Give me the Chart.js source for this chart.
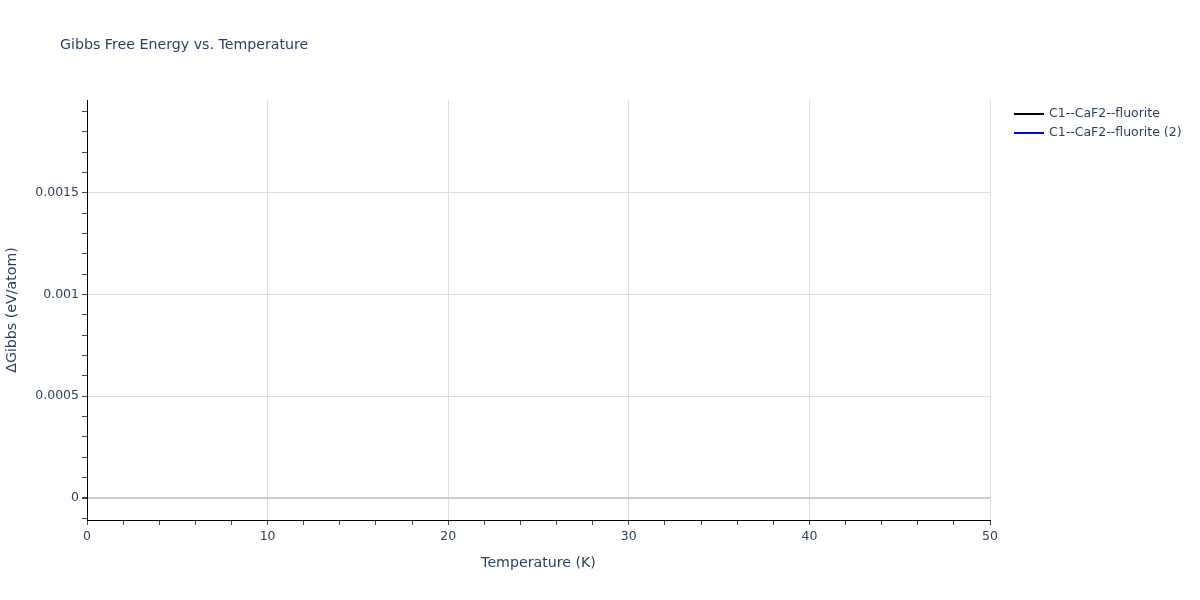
<!DOCTYPE html>
<html>
<head>
<meta charset="utf-8">
<script src="https://cdn.jsdelivr.net/npm/chart.js@4"></script>
<style>
  html, body { margin: 0; padding: 0; background: #fff; }
  #wrap { width: 1200px; height: 600px; }
</style>
</head>
<body>
<div id="wrap"><canvas id="gibbs"></canvas></div>
<script>
// data: no visible trace points in the plotted range
var seriesNames = ['C1--CaF2--fluorite', 'C1--CaF2--fluorite (2)'];
var seriesColors = ['#000000', '#0000ff'];
var temperature1 = [];
var gibbs1 = [];
var temperature2 = [];
var gibbs2 = [];
var xRange = [0, 50];
var yRange = [-0.000109, 0.001957];

var textColor = '#2a3f5f';
var fontFamily = '"DejaVu Sans", Verdana, sans-serif';

function toPoints(xs, ys) {
    return xs.map(function (x, i) { return { x: x, y: ys[i] }; });
}

// title + legend drawn on the canvas
var decorations = {
    id: 'decorations',
    afterDraw: function (chart) {
        var c = chart.ctx;
        c.save();
        c.fillStyle = textColor;
        c.font = '14.2px ' + fontFamily;
        c.textBaseline = 'middle';
        c.textAlign = 'left';
        c.fillText('Gibbs Free Energy vs. Temperature', 60, 45);

        c.font = '12.5px ' + fontFamily;
        chart.data.datasets.forEach(function (ds, i) {
            var y = 114 + i * 19;
            c.strokeStyle = ds.borderColor;
            c.lineWidth = 2;
            c.beginPath();
            c.moveTo(1014, y);
            c.lineTo(1044, y);
            c.stroke();
            c.fillStyle = textColor;
            c.fillText(ds.label, 1049, y);
        });
        c.restore();
    }
};

function isStep(v, f) {
    return Math.abs(v * f - Math.round(v * f)) < 1e-6;
}

var ctx = document.getElementById('gibbs').getContext('2d');
var myChart = new Chart(ctx, {
    type: 'line',
    data: {
        datasets: [{
            label: seriesNames[0],
            data: toPoints(temperature1, gibbs1),
            borderColor: seriesColors[0],
            backgroundColor: seriesColors[0],
            borderWidth: 2,
            pointRadius: 0
        },
        {
            label: seriesNames[1],
            data: toPoints(temperature2, gibbs2),
            borderColor: seriesColors[1],
            backgroundColor: seriesColors[1],
            borderWidth: 2,
            pointRadius: 0
        }]
    },
    options: {
        responsive: true,
        maintainAspectRatio: false,
        animation: false,
        layout: { padding: { left: 0, top: 100, right: 210, bottom: 24 } },
        plugins: {
            legend: { display: false },
            title: { display: false },
            tooltip: { enabled: false }
        },
        scales: {
            x: {
                type: 'linear',
                min: xRange[0],
                max: xRange[1],
                afterFit: function (s) { s.height = 56; },
                border: { color: '#000', width: 1 },
                grid: {
                    color: function (c) {
                        return c.tick && c.tick.value % 10 === 0 ? '#dddddd' : 'rgba(0,0,0,0)';
                    },
                    tickColor: '#444',
                    tickLength: 5
                },
                ticks: {
                    stepSize: 2,
                    autoSkip: false,
                    maxRotation: 0,
                    color: textColor,
                    font: { family: fontFamily, size: 12.5 },
                    padding: 4,
                    callback: function (v) { return v % 10 === 0 ? String(v) : ''; }
                },
                title: {
                    display: true,
                    text: 'Temperature (K)',
                    color: textColor,
                    font: { family: fontFamily, size: 14.2 }
                }
            },
            y: {
                type: 'linear',
                min: yRange[0],
                max: yRange[1],
                afterFit: function (s) { s.width = 87; },
                border: { color: '#000', width: 1 },
                grid: {
                    color: function (c) {
                        if (!c.tick) return 'rgba(0,0,0,0)';
                        var v = c.tick.value;
                        if (Math.abs(v) < 1e-9) return '#cccccc';
                        return isStep(v / 5, 1e4) ? '#dddddd' : 'rgba(0,0,0,0)';
                    },
                    lineWidth: function (c) {
                        return c.tick && Math.abs(c.tick.value) < 1e-9 ? 2 : 1;
                    },
                    tickColor: function (c) {
                        return c.tick && isStep(c.tick.value, 1e4) ? '#444' : 'rgba(0,0,0,0)';
                    },
                    tickLength: 5
                },
                ticks: {
                    stepSize: 0.0001,
                    includeBounds: false,
                    autoSkip: false,
                    color: textColor,
                    font: { family: fontFamily, size: 12.5 },
                    padding: 3,
                    callback: function (v) {
                        return isStep(v / 5, 1e4) ? String(Math.round(v * 1e4) / 1e4) : '';
                    }
                },
                title: {
                    display: true,
                    text: '\u0394Gibbs (eV/atom)',
                    color: textColor,
                    font: { family: fontFamily, size: 14.2 }
                }
            }
        }
    },
    plugins: [decorations]
});
</script>
</body>
</html>
